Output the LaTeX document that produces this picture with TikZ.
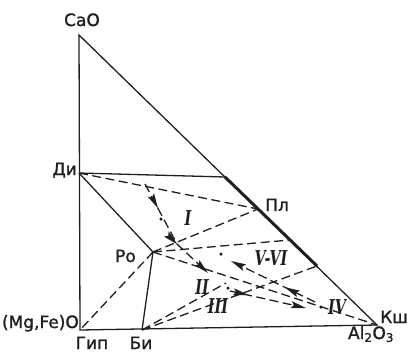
\documentclass[tikz,border=0pt]{standalone}
\usepackage{fontspec}
\usepackage{graphicx}
\setmainfont{DejaVu Sans}
\newfontfamily\labfont{DejaVu Sans}[FakeBold=1.3]
\newfontfamily\numfont{DejaVu Serif}
\usetikzlibrary{arrows.meta,decorations.markings}
\definecolor{ink}{gray}{0.12}
\newcommand\romlab[1]{\scalebox{0.7}[1]{\fontsize{20.5}{20.5}\numfont\bfseries\itshape #1}}
\begin{document}
\begin{tikzpicture}[x=1pt,y=-1pt,
  every node/.style={font=\fontsize{17}{17}\labfont, text=ink, inner sep=0pt},
  solidline/.style={draw=ink, line width=1.3pt},
  thickline/.style={draw=ink, line width=3pt},
  dashline/.style={draw=ink, line width=1.3pt, dash pattern=on 9pt off 4.5pt},
  traj/.style={draw=ink, line width=1.3pt, dash pattern=on 9pt off 4.5pt},
  tipstyle/.style={-{Stealth[length=15pt,width=7pt,inset=2.5pt]}},
  arrat/.style={postaction={decorate, decoration={markings, mark=at position #1 with {\pgfsetdash{}{0pt}\arrow[ink]{Stealth[length=15pt,width=7pt,inset=2.5pt]}}}}},
  dotnode/.style={circle, fill=ink, minimum size=3.5pt, inner sep=0pt}
]
\useasboundingbox (0,0) rectangle (407,357);
% vertices and points
\coordinate (A) at (79,35);
\coordinate (M) at (80,330);
\coordinate (K) at (377,325);
\coordinate (D) at (79,173);
\coordinate (T) at (225,177);
\coordinate (P) at (258,209);
\coordinate (E) at (317,266);
\coordinate (H) at (290,240);
\coordinate (R) at (153,252);
\coordinate (B) at (142,330);
\coordinate (J) at (226,283);
% trajectory points
\coordinate (S1) at (145,184);
\coordinate (G) at (177,244);
\coordinate (Q2) at (208,273);
\coordinate (S3) at (230,291);
\coordinate (Q4) at (306,308);
\coordinate (S5) at (315,302);
\coordinate (Q5) at (231,261);

% solid lines
\draw[solidline] (A) -- (M) -- (K) -- cycle;
\draw[solidline] (D) -- (T);
\draw[solidline] (D) -- (R) -- (B);
\draw[thickline] (T) -- (E);
% dashed tie lines
\draw[dashline] (D) -- (P);
\draw[dashline] (R) -- (P);
\draw[dashline] (R) -- (H);
\draw[dashline] (R) -- (M);
\draw[dashline] (R) -- (K);
\draw[dashline] (B) -- (E);
\draw[dashline] (B) -- (J);
% paths with arrows
\draw[traj, arrat=0.25, arrat=0.62, tipstyle] (S1) -- (G) -- (Q2);
\draw[traj, arrat=0.24, tipstyle] (S3) -- (Q4);
\draw[traj, arrat=0.36, tipstyle] (S5) -- (Q5);
% points
\node[dotnode] (pI) at (161,219) {};
\node[dotnode] (pV) at (221,254) {};
\node[dotnode] (pIII) at (228,288) {};
\node[dotnode] (pIV) at (321,307) {};
% labels
\node[anchor=base] (lCaO) at (82,26) {CaO};
\node[anchor=base east] (lDi) at (77,175) {Ди};
\node[anchor=base west] (lPl) at (265,211) {Пл};
\node[anchor=base east] (lRo) at (136,262) {Ро};
\node[anchor=base east] (lMg) at (79,328) {(Mg,Fe)O};
\node[anchor=base] (lGip) at (92,349) {Гип};
\node[anchor=base] (lBi) at (141,349) {Би};
\node[anchor=base west] (lKsh) at (380,323) {Кш};
\node[anchor=base] (lAl) at (371,339) {Al\textsubscript{2}O\textsubscript{3}};
% roman numerals
\node (nI) at (188,218) {\romlab{I}};
\node (nII) at (202,287) {\romlab{II}};
\node (nIII) at (218,306) {\romlab{III}};
\node (nIV) at (337,307) {\romlab{IV}};
\node (nV) at (271,258) {\romlab{V-VI}};
\end{tikzpicture}
\end{document}
